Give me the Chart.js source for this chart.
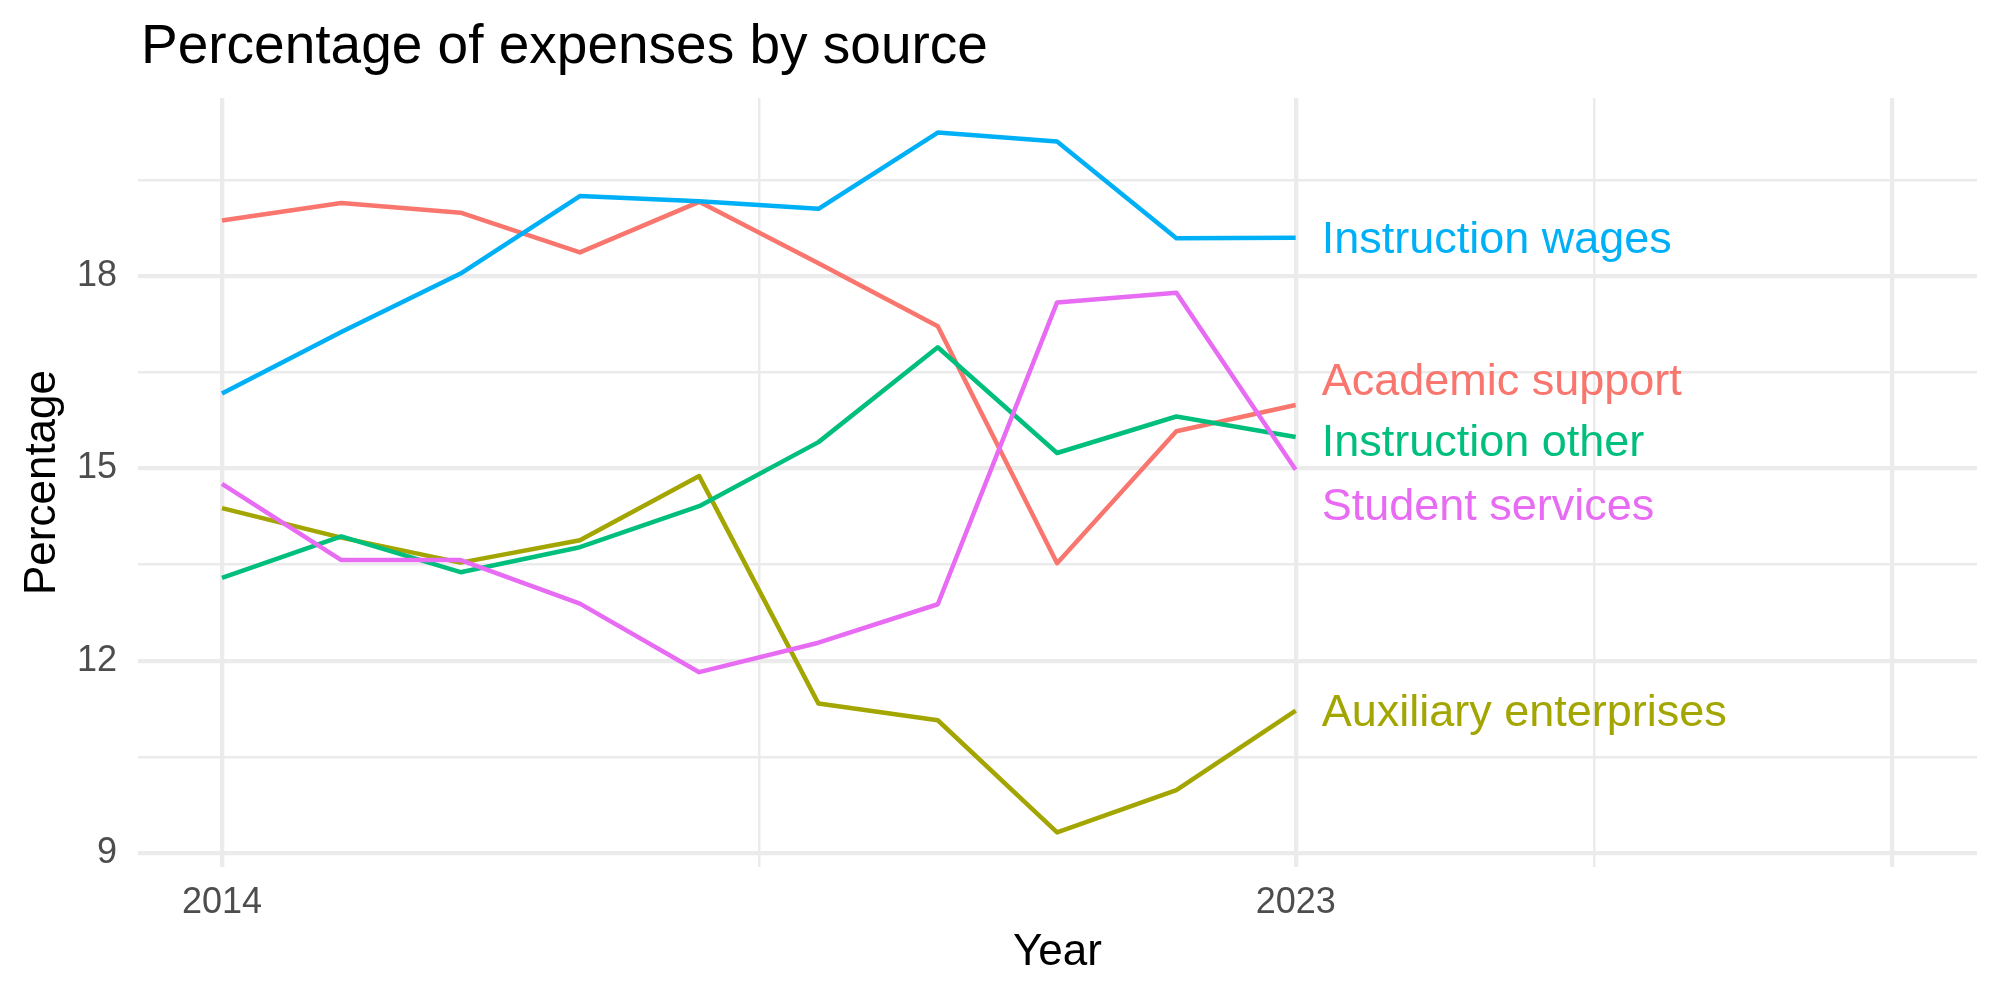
<!DOCTYPE html>
<html>
<head>
<meta charset="utf-8">
<title>Percentage of expenses by source</title>
<script src="https://cdn.jsdelivr.net/npm/chart.js@4.4.0/dist/chart.umd.min.js"></script>
<style>
  html, body { margin: 0; padding: 0; background: #fff; }
  #wrap { width: 2000px; height: 1000px; }
</style>
</head>
<body>
<div id="wrap"><canvas id="chart" width="2000" height="1000"></canvas></div>
<script>
const years = [2014, 2015, 2016, 2017, 2018, 2019, 2020, 2021, 2022, 2023];

const academicSupport      = [18.87, 19.14, 18.99, 18.37, 19.16, 18.20, 17.22, 13.52, 15.58, 15.99];
const auxiliaryEnterprises = [14.38, 13.92, 13.53, 13.88, 14.88, 11.33, 11.07,  9.32,  9.98, 11.22];
const instructionOther     = [13.29, 13.94, 13.38, 13.77, 14.41, 15.41, 16.89, 15.24, 15.81, 15.49];
const instructionWages     = [16.17, 17.13, 18.04, 19.25, 19.17, 19.05, 20.24, 20.10, 18.59, 18.60];
const studentServices      = [14.76, 13.57, 13.57, 12.89, 11.82, 12.28, 12.88, 17.59, 17.74, 14.98];

const seriesNames  = ['Academic support', 'Auxiliary enterprises', 'Instruction other', 'Instruction wages', 'Student services'];
const seriesData   = [academicSupport, auxiliaryEnterprises, instructionOther, instructionWages, studentServices];
const seriesColors = ['#F8766D', '#A3A500', '#00BF7D', '#00B0F6', '#E76BF3'];
// where the end labels sit after being pushed apart
const labelValues  = [16.39, 11.22, 15.43, 18.60, 14.44];

const yTicks      = [9, 10.5, 12, 13.5, 15, 16.5, 18, 19.5];
const yTickLabels = ['9', '', '12', '', '15', '', '18', ''];
const xTicks      = [2014, 2018.5, 2023, 2025.5, 2028];
const xTickLabels = ['2014', '', '2023', '', ''];
const xMajor      = [2014, 2023, 2028];

const FONT = '"Liberation Sans", Arial, Helvetica, sans-serif';
const GRID = '#EBEBEB';

const endLabels = {
  id: 'endLabels',
  afterDatasetsDraw(chart) {
    const { ctx, scales: { x, y } } = chart;
    const lastYear = years[years.length - 1];
    ctx.save();
    ctx.font = '45px ' + FONT;
    ctx.textAlign = 'left';
    ctx.textBaseline = 'middle';
    seriesNames.forEach((name, i) => {
      ctx.fillStyle = seriesColors[i];
      ctx.fillText(name, x.getPixelForValue(lastYear) + 26, y.getPixelForValue(labelValues[i]) + 3);
    });
    ctx.fillStyle = '#000';
    ctx.font = '55px ' + FONT;
    ctx.textBaseline = 'alphabetic';
    ctx.fillText('Percentage of expenses by source', chart.chartArea.left + 3, 63);
    ctx.restore();
  }
};

new Chart(document.getElementById('chart').getContext('2d'), {
  type: 'line',
  data: {
    labels: years,
    datasets: seriesNames.map((name, i) => ({
      label: name,
      data: years.map((yr, j) => ({ x: yr, y: seriesData[i][j] })),
      borderColor: seriesColors[i],
      borderWidth: 4.5,
      borderJoinStyle: 'round',
      pointRadius: 0,
      tension: 0,
      fill: false,
      order: seriesNames.length - i
    }))
  },
  options: {
    responsive: false,
    animation: false,
    layout: { padding: { top: 98, right: 23, bottom: 0, left: 0 } },
    plugins: { legend: { display: false }, tooltip: { enabled: false }, title: { display: false } },
    scales: {
      x: {
        type: 'linear',
        min: 2013.296,
        max: 2028.711,
        afterBuildTicks: s => { s.ticks = xTicks.map(v => ({ value: v })); },
        afterFit: s => { s.height = 133; },
        border: { display: false },
        grid: {
          color: GRID,
          drawTicks: false,
          lineWidth: c => (c.tick && xMajor.includes(c.tick.value)) ? 4.3 : 2.5
        },
        ticks: {
          autoSkip: false,
          maxRotation: 0,
          padding: 14,
          color: '#4D4D4D',
          font: { family: FONT, size: 36 },
          callback: (v, i) => xTickLabels[i]
        },
        title: {
          display: true,
          text: 'Year',
          color: '#000',
          font: { family: FONT, size: 44 },
          padding: { bottom: 21 }
        }
      },
      y: {
        min: 8.78,
        max: 20.78,
        afterBuildTicks: s => { s.ticks = yTicks.map(v => ({ value: v })); },
        afterFit: s => { s.width = 138; },
        border: { display: false },
        grid: {
          color: GRID,
          drawTicks: false,
          lineWidth: c => (c.tick && yTickLabels[yTicks.indexOf(c.tick.value)] !== '') ? 4.3 : 2.5
        },
        ticks: {
          autoSkip: false,
          padding: 21,
          color: '#4D4D4D',
          font: { family: FONT, size: 36 },
          callback: (v, i) => yTickLabels[i]
        },
        title: {
          display: true,
          text: 'Percentage',
          color: '#000',
          font: { family: FONT, size: 44 },
          padding: { top: 16 }
        }
      }
    }
  },
  plugins: [endLabels]
});
</script>
</body>
</html>
